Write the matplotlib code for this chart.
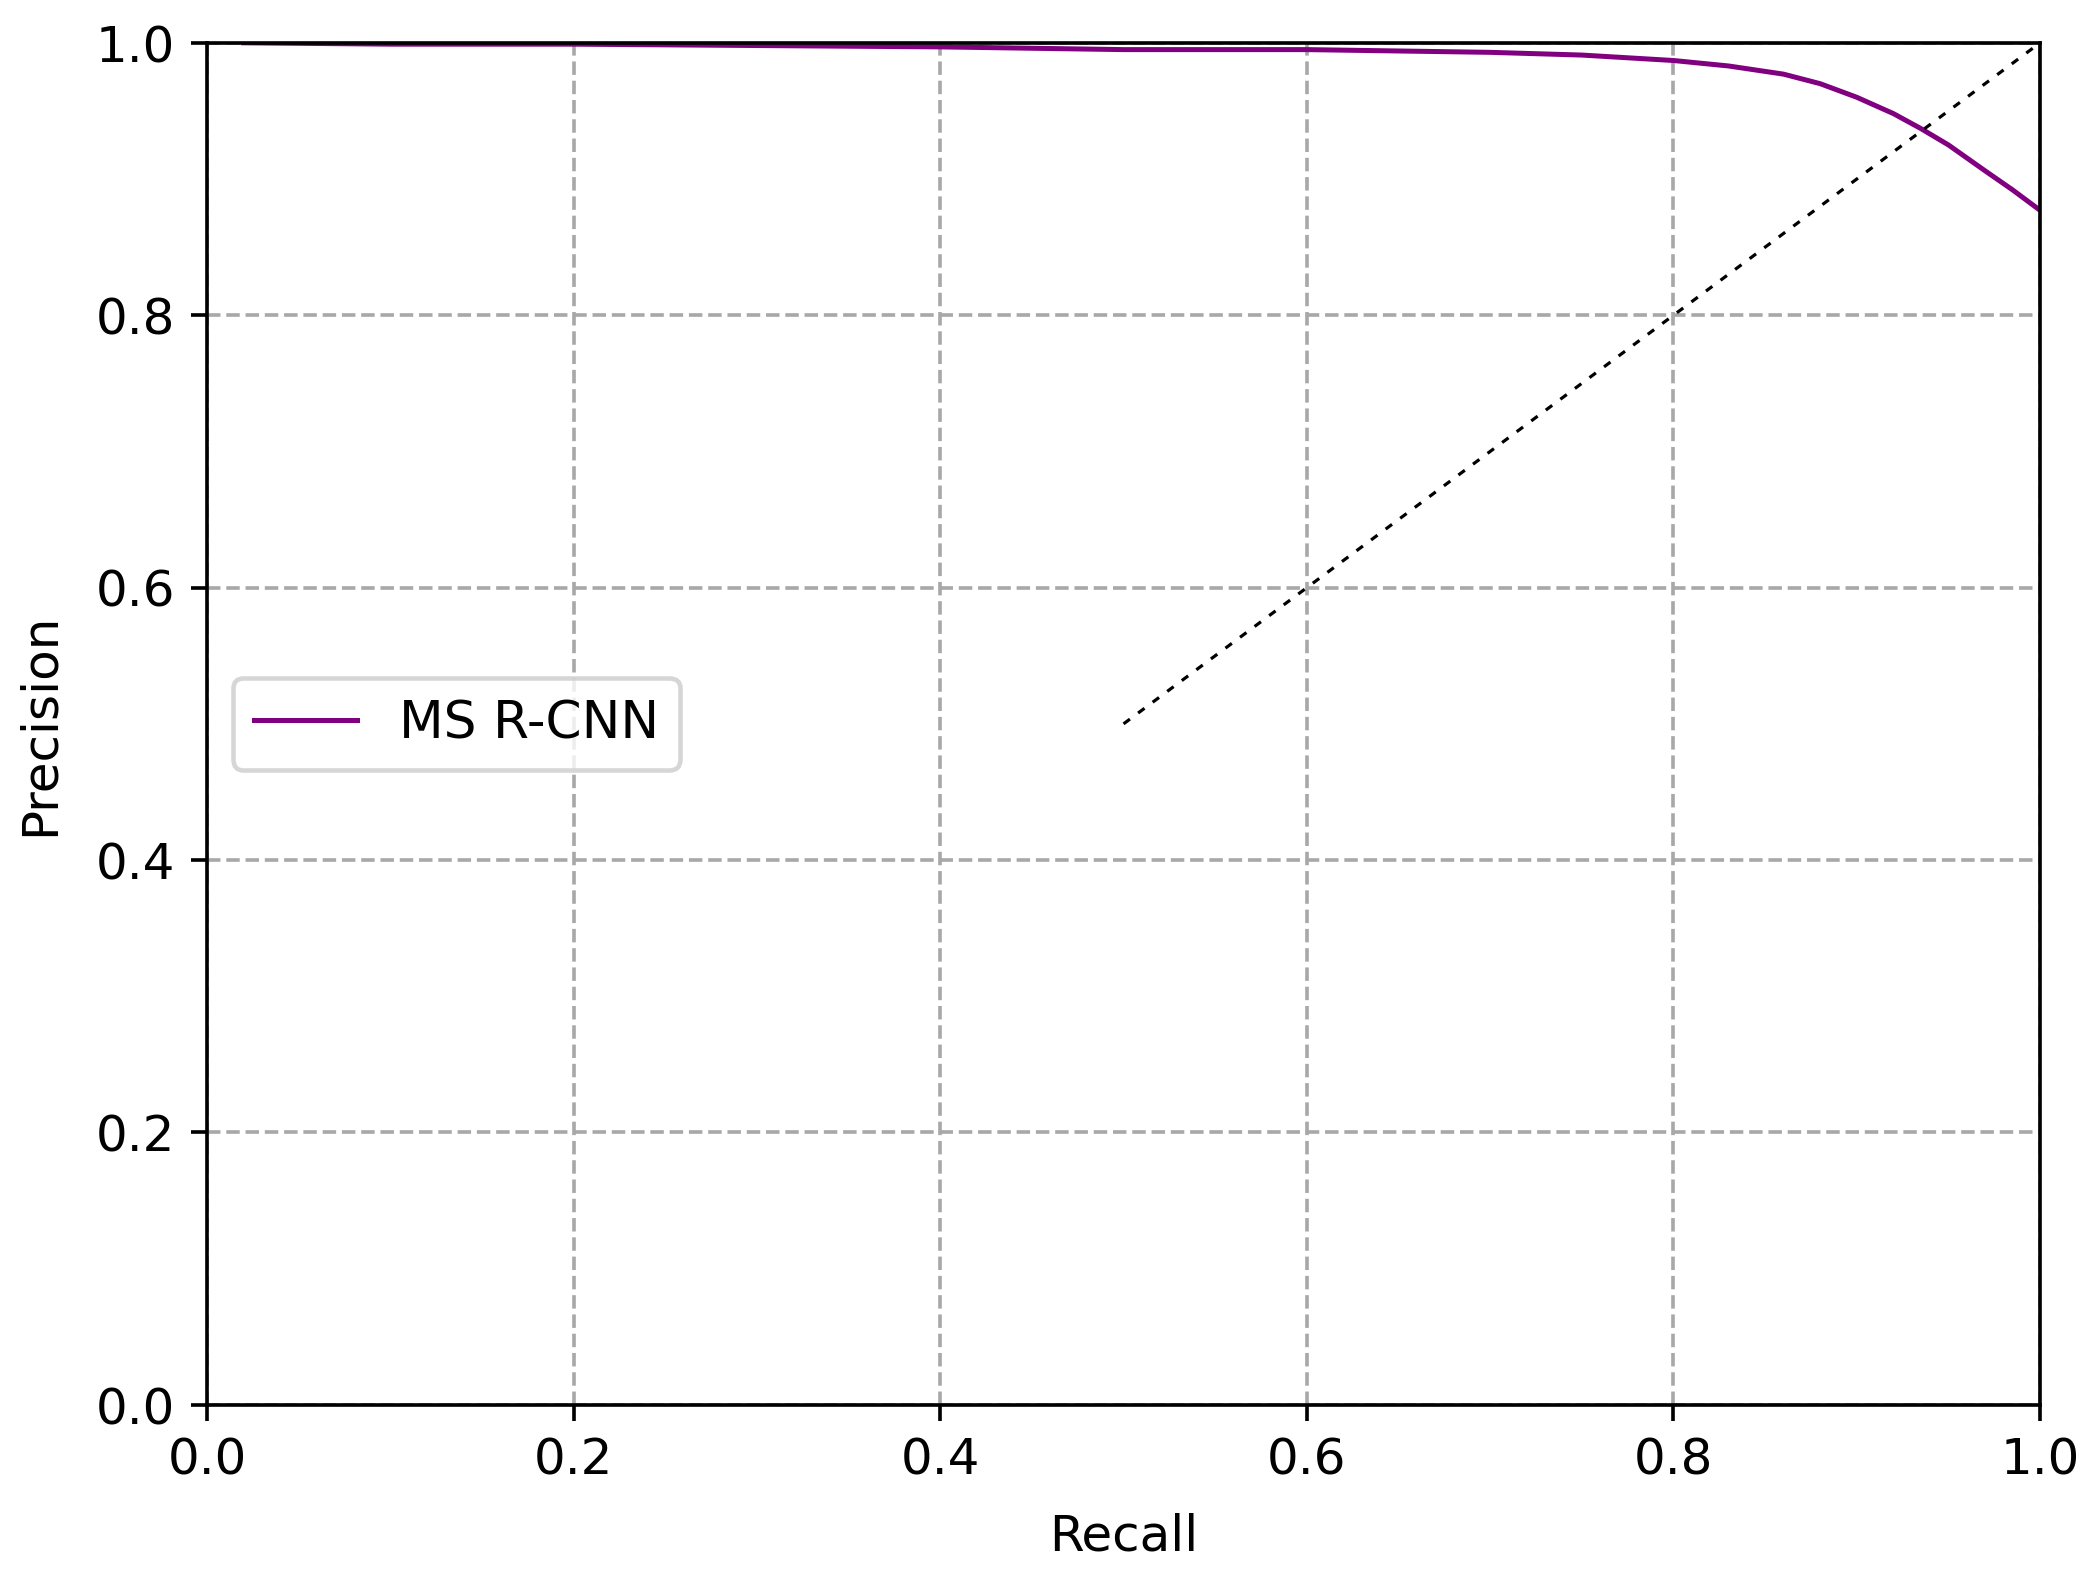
import matplotlib
matplotlib.use("Agg")
import matplotlib.pyplot as plt

# precision-recall curve
recall = [0.02, 0.10, 0.20, 0.30, 0.40, 0.50, 0.60, 0.70, 0.75, 0.80, 0.83,
          0.86, 0.88, 0.90, 0.92, 0.935, 0.95, 0.97, 0.985, 1.00]
precision = [1.000, 0.999, 0.999, 0.998, 0.997, 0.995, 0.995, 0.993, 0.991, 0.987,
             0.983, 0.977, 0.970, 0.960, 0.948, 0.937, 0.925, 0.906, 0.892, 0.877]
series_label = "MS R-CNN"

# reference diagonal
diag_x = [0.5, 1.0]
diag_y = [0.5, 1.0]

ticks = [0.0, 0.2, 0.4, 0.6, 0.8, 1.0]

fig = plt.figure(figsize=(6.4, 4.8), dpi=2095 / 6.4)
ax = fig.add_axes([0.0988, 0.1057, 0.9738 - 0.0988, 0.9726 - 0.1057])

ax.plot(recall, precision, color="purple", lw=1.1, label=series_label)
ax.plot(diag_x, diag_y, color="black", linestyle=(0, (2.5, 3.2)), lw=0.7)

ax.set_xlim(0, 1)
ax.set_ylim(0, 1)
ax.set_xticks(ticks)
ax.set_yticks(ticks)
ax.tick_params(labelsize=11)
ax.set_xlabel("Recall", fontsize=11, labelpad=6)
ax.set_ylabel("Precision", fontsize=11, labelpad=7)
ax.grid(True, linestyle="--", color="#a8a8a8", lw=0.8)
ax.legend(loc="center left", fontsize=11.4)

fig.savefig("out.png", dpi=2095 / 6.4)
